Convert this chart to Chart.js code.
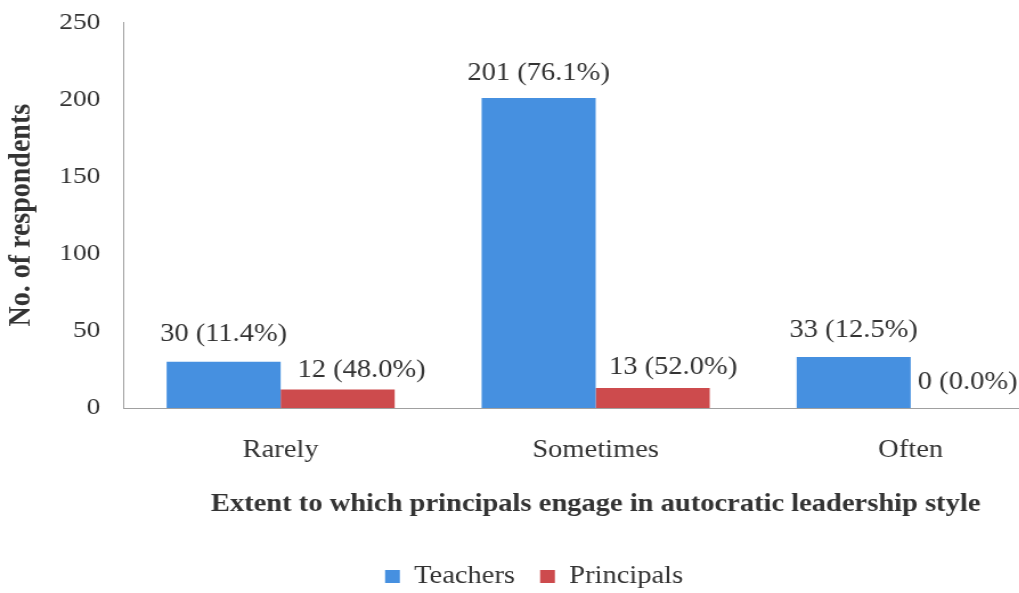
<!DOCTYPE html>
<html>
<head>
<meta charset="utf-8">
<script src="https://cdn.jsdelivr.net/npm/chart.js@4.4.1/dist/chart.umd.min.js"></script>
<style>
  html, body { margin: 0; padding: 0; background: #fff; overflow: hidden; }
  /* the source image is a bit stretched sideways, so draw narrow and widen */
  #wrap { width: 940px; height: 603px; margin-top: -4px; transform: scaleX(1.14); transform-origin: 0 0; }
</style>
</head>
<body>
<div id="wrap"><canvas id="chart"></canvas></div>
<script>
// data
const categories = ['Rarely', 'Sometimes', 'Often'];
const teachers = [30, 201, 33];
const principals = [12, 13, 0];
const teacherPct = [11.4, 76.1, 12.5];
const principalPct = [48.0, 52.0, 0.0];
const yTicks = [0, 50, 100, 150, 200, 250];

const serif = '"Liberation Serif", "Times New Roman", serif';

// value (percent) labels above each bar
const barLabels = {
    id: 'barLabels',
    afterDatasetsDraw(chart) {
        const ctx = chart.ctx;
        const pcts = [teacherPct, principalPct];
        const dx = [[0, 0, 0], [21, 18, 0]];
        const dy = [[27, 25, 27], [19, 21, 26]];
        ctx.save();
        ctx.font = '25px ' + serif;
        ctx.fillStyle = '#333';
        ctx.textAlign = 'center';
        ctx.textBaseline = 'middle';
        chart.data.datasets.forEach((ds, i) => {
            chart.getDatasetMeta(i).data.forEach((bar, j) => {
                const txt = ds.data[j] + ' (' + pcts[i][j].toFixed(1) + '%)';
                ctx.fillText(txt, bar.x + dx[i][j], bar.y - dy[i][j]);
            });
        });
        ctx.restore();
    }
};

new Chart(document.getElementById('chart'), {
    type: 'bar',
    data: {
        labels: categories,
        datasets: [
            { label: 'Teachers', data: teachers, backgroundColor: '#4690e0' },
            { label: 'Principals', data: principals, backgroundColor: '#cd4b4d' }
        ]
    },
    options: {
        responsive: true,
        maintainAspectRatio: false,
        animation: false,
        categoryPercentage: 0.724,
        barPercentage: 1.0,
        layout: { padding: { left: 0, right: 3, top: 0, bottom: 0 } },
        scales: {
            x: {
                grid: { display: false },
                border: { display: true, color: '#a0a0a0' },
                ticks: { color: '#333', font: { family: serif, size: 25 }, padding: 19 },
                title: {
                    display: true,
                    text: 'Extent to which principals engage in autocratic leadership style',
                    color: '#333',
                    font: { family: serif, size: 25, weight: 'bold' },
                    padding: { top: 6, bottom: 22 }
                }
            },
            y: {
                min: 0,
                max: 250,
                afterBuildTicks: s => { s.ticks = yTicks.map(v => ({ value: v })); },
                grid: { display: false },
                border: { display: true, color: '#a0a0a0' },
                ticks: { color: '#333', font: { family: serif, size: 24 }, padding: 12 },
                title: {
                    display: true,
                    text: 'No. of respondents',
                    color: '#333',
                    font: { family: serif, size: 28, weight: 'bold' },
                    padding: { top: 2, bottom: 0 }
                },
                afterFit: s => { s.width = 108; }
            }
        },
        plugins: {
            legend: {
                position: 'bottom',
                labels: {
                    color: '#333',
                    font: { family: serif, size: 25 },
                    boxWidth: 13,
                    boxHeight: 13,
                    padding: 22
                }
            },
            tooltip: { enabled: false }
        }
    },
    plugins: [barLabels]
});
</script>
</body>
</html>
